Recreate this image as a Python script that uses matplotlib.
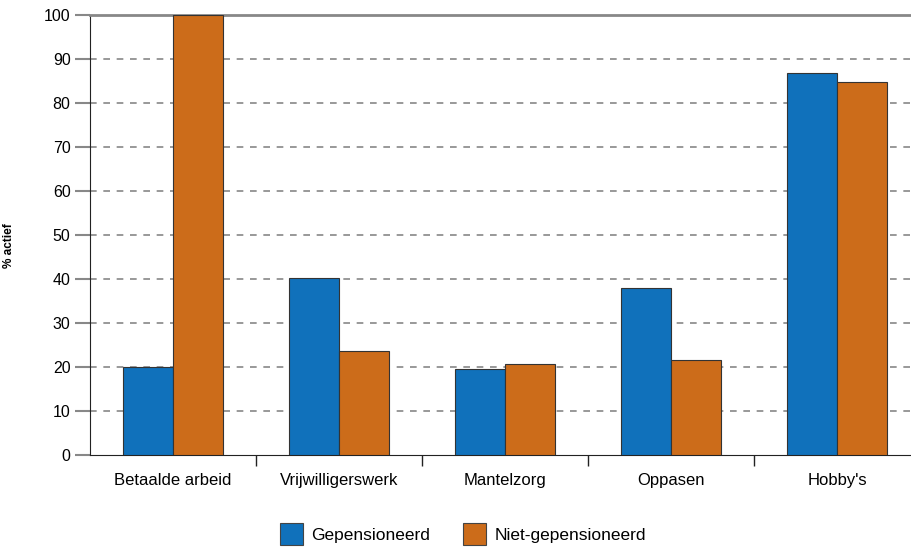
import matplotlib.pyplot as plt
import numpy as np
from matplotlib.patches import Patch

categories = ["Betaalde arbeid", "Vrijwilligerswerk", "Mantelzorg", "Oppasen", "Hobby's"]
gepensioneerd = [20.0, 40.2, 19.5, 38.0, 86.8]
niet_gepensioneerd = [100.0, 23.6, 20.7, 21.6, 84.8]
series_names = ["Gepensioneerd", "Niet-gepensioneerd"]
colors = ["#1071bb", "#cc6c1a"]

plt.rcParams['font.family'] = ['Liberation Sans', 'DejaVu Sans']

fig = plt.figure(figsize=(9.12, 5.51), dpi=100)
W, H = 912, 551
# axes: x 90..920 px, y 15..455 px
ax = fig.add_axes([90 / W, (H - 455) / H, 830 / W, 440 / H])

x = np.arange(len(categories))
bw = 0.3
ax.bar(x - bw / 2, gepensioneerd, bw, color=colors[0], edgecolor="#333333", linewidth=0.8, zorder=3)
ax.bar(x + bw / 2, niet_gepensioneerd, bw, color=colors[1], edgecolor="#333333", linewidth=0.8, zorder=3)

ax.set_xlim(-0.5, len(categories) - 0.5)
ax.set_ylim(0, 100)
ax.set_yticks(range(0, 101, 10))
ax.tick_params(axis='y', length=11, color="#888888", width=1.5, labelsize=11.5, pad=3)

# category labels centered, ticks at boundaries
ax.set_xticks(x)
ax.set_xticklabels(categories, fontsize=12)
ax.tick_params(axis='x', which='major', length=0, pad=13)
ax.set_xticks(np.arange(0.5, len(categories) - 0.5, 1), minor=True)
ax.tick_params(axis='x', which='minor', length=8, color="#222222", width=1)

for v in range(10, 100, 10):
    ax.axhline(v, color="#888888", linestyle=(0, (4, 4)), linewidth=1.2, zorder=1)

ax.spines["right"].set_visible(False)
ax.spines["top"].set_color("#888888")
ax.spines["top"].set_linewidth(2)
ax.spines["left"].set_color("#222222")
ax.spines["bottom"].set_color("#222222")

ax.set_ylabel("% actief", fontsize=8.5, fontweight="bold")
ax.yaxis.set_label_coords((15 - 90) / 830, 0.475)

handles = [Patch(facecolor=c, edgecolor="#444444", linewidth=0.8) for c in colors]
fig.legend(handles, series_names, loc="center", bbox_to_anchor=(463 / W, (H - 534) / H),
           ncol=2, frameon=False, fontsize=12.5, handlelength=1.3, handleheight=1.5,
           handletextpad=0.5, columnspacing=1.9)

fig.savefig("out.png", dpi=100)
